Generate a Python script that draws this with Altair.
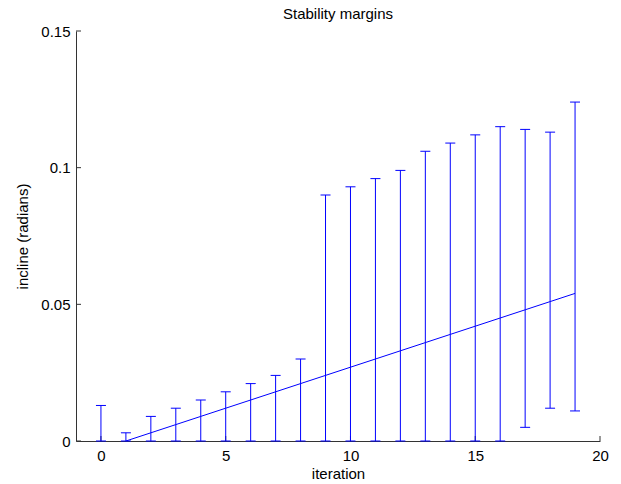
import altair as alt
import pandas as pd

# ---- data ----
iterations = [0, 1, 2, 3, 4, 5, 6, 7, 8, 9, 10, 11, 12, 13, 14, 15, 16, 17, 18, 19]
upper = [0.013, 0.003, 0.009, 0.012, 0.015, 0.018, 0.021, 0.024, 0.030, 0.090,
         0.093, 0.096, 0.099, 0.106, 0.109, 0.112, 0.115, 0.114, 0.113, 0.124]
lower = [0.0, 0.0, 0.0, 0.0, 0.0, 0.0, 0.0, 0.0, 0.0, 0.0,
         0.0, 0.0, 0.0, 0.0, 0.0, 0.0, 0.0, 0.005, 0.012, 0.011]
line_iter = [1, 2, 3, 4, 5, 6, 7, 8, 9, 10, 11, 12, 13, 14, 15, 16, 17, 18, 19]
line_vals = [0.000, 0.003, 0.006, 0.009, 0.012, 0.015, 0.018, 0.021, 0.024, 0.027,
             0.030, 0.033, 0.036, 0.039, 0.042, 0.045, 0.048, 0.051, 0.054]
x_ticks = [0, 5, 10, 15, 20]
y_ticks = [0, 0.05, 0.1, 0.15]

bars = pd.DataFrame({"iteration": iterations, "lower": lower, "upper": upper})
line_df = pd.DataFrame({"iteration": line_iter, "incline": line_vals})
xt_df = pd.DataFrame({"iteration": x_ticks})
yt_df = pd.DataFrame({"incline": y_ticks})

BLUE = "#0000ff"
AX = "#333333"
FONT = "Liberation Sans"
W, H = 524, 410

xs = alt.Scale(domain=[-1, 20], nice=False, zero=False)
ys = alt.Scale(domain=[0, 0.15], nice=False, zero=False)

x_axis = alt.Axis(values=x_ticks, grid=False, tickSize=0, labelPadding=7,
                  labelFontSize=15, labelFont=FONT, labelColor="black",
                  labelFlush=False, labelOverlap=False,
                  domainColor=AX, domainWidth=1,
                  titleFontSize=15, titleFont=FONT, titleFontWeight="normal",
                  titleColor="black", titlePadding=3)
y_axis = alt.Axis(values=y_ticks, format="~g", grid=False, tickSize=0, labelPadding=6,
                  labelFontSize=15, labelFont=FONT, labelColor="black",
                  labelFlush=False, labelOverlap=False,
                  domainColor=AX, domainWidth=1,
                  titleFontSize=15, titleFont=FONT, titleFontWeight="normal",
                  titleColor="black", titlePadding=10)

XT = "iteration"
YT = "incline (radians)"

err = alt.Chart(bars).mark_rule(color=BLUE, strokeWidth=1).encode(
    x=alt.X("iteration:Q", scale=xs, axis=x_axis, title=XT),
    y=alt.Y("lower:Q", scale=ys, axis=y_axis, title=YT),
    y2="upper:Q",
)
cap_top = alt.Chart(bars).mark_tick(color=BLUE, orient="horizontal", size=10,
                                    thickness=1, opacity=1).encode(
    x=alt.X("iteration:Q", scale=xs, title=XT),
    y=alt.Y("upper:Q", scale=ys, title=YT),
)
cap_bot = alt.Chart(bars).mark_tick(color=BLUE, orient="horizontal", size=10,
                                    thickness=1, opacity=1).encode(
    x=alt.X("iteration:Q", scale=xs, title=XT),
    y=alt.Y("lower:Q", scale=ys, title=YT),
)
line = alt.Chart(line_df).mark_line(color=BLUE, strokeWidth=1).encode(
    x=alt.X("iteration:Q", scale=xs, title=XT),
    y=alt.Y("incline:Q", scale=ys, title=YT),
)
yticks = alt.Chart(yt_df).mark_rule(color=AX, strokeWidth=1).encode(
    y=alt.Y("incline:Q", scale=ys, title=YT),
    x=alt.value(0), x2=alt.value(5),
)
xticks = alt.Chart(xt_df).mark_rule(color=AX, strokeWidth=1).encode(
    x=alt.X("iteration:Q", scale=xs, title=XT),
    y=alt.value(H), y2=alt.value(H - 5),
)

chart = alt.layer(xticks, yticks, err, cap_top, cap_bot, line).properties(
    width=W, height=H,
    title=alt.Title("Stability margins", fontSize=15, fontWeight="normal",
                    font=FONT, color="black", offset=2, anchor="middle"),
    autosize=alt.AutoSizeParams(type="none"),
    padding={"left": 68, "top": 23, "right": 13, "bottom": 45},
    background="white",
).configure_view(stroke=None)

chart.save("out.html", embed_options={"renderer": "svg", "actions": False})
